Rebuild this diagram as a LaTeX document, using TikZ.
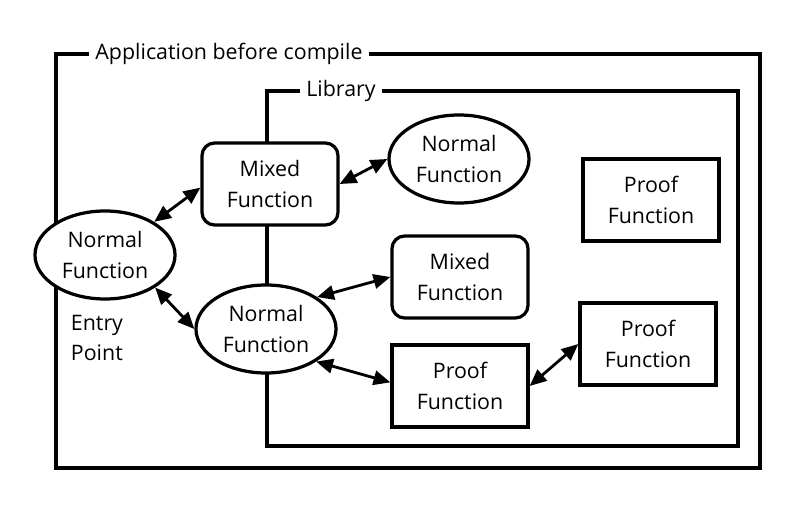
\documentclass[tikz,border=0pt]{standalone}
\usepackage{fontspec}
\setmainfont{Open Sans}
\usetikzlibrary{positioning}
\usetikzlibrary{shapes.geometric}
\usetikzlibrary{arrows.meta}

\begin{document}
\begin{tikzpicture}[
  x=0.025cm, y=-0.025cm,
  font=\fontsize{15.2}{21.5}\selectfont,
  frame/.style={draw, line width=2.6pt},
  title/.style={fill=white, inner xsep=0.17cm, inner ysep=1pt},
  normalfn/.style={draw, ellipse, line width=2.3pt, fill=white, align=center, inner sep=0pt, minimum width=3.5cm, minimum height=2.2cm},
  mixedfn/.style={draw, rounded corners=9pt, line width=2.3pt, fill=white, align=center, inner sep=0pt, minimum width=3.4cm, minimum height=2.05cm},
  prooffn/.style={draw, line width=2.3pt, fill=white, align=center, inner sep=0pt, minimum width=3.4cm, minimum height=2.05cm},
  link/.style={{Triangle[length=4.2mm, width=3.6mm]}-{Triangle[length=4.2mm, width=3.6mm]}, line width=2pt}
]
\useasboundingbox (0,0) rectangle (800,505);

% frames
\draw[frame] (56,54) rectangle (760,468);
\draw[frame] (267,91) rectangle (738,446);
\node[title] (apptitle) at (229,54) {Application before compile};
\node[title] (libtitle) at (341,91) {Library};

% functions
\node[normalfn] (entry) at (105,255) {Normal\\Function};
\node[align=left, anchor=west] (entrytext) at (66,338) {Entry\\Point};
\node[mixedfn] (mixedA) at (270,184) {Mixed\\Function};
\node[normalfn] (normalB) at (266,329) {Normal\\Function};
\node[normalfn] (normalC) at (459,159) {Normal\\Function};
\node[mixedfn] (mixedD) at (460,277) {Mixed\\Function};
\node[prooffn] (proofE) at (460,386) {Proof\\Function};
\node[prooffn] (proofF) at (648,344) {Proof\\Function};
\node[prooffn] (proofG) at (651,200) {Proof\\Function};

% calls
\draw[link] (entry.34) -- (mixedA.183);
\draw[link] (entry.-33) -- (normalB.west);
\draw[link] (mixedA.east) -- (normalC.west);
\draw[link] (normalB.32) -- (mixedD.west);
\draw[link] (normalB.-33) -- (proofE.177);
\draw[link] (proofE.east) -- (proofF.west);

\end{tikzpicture}
\end{document}
